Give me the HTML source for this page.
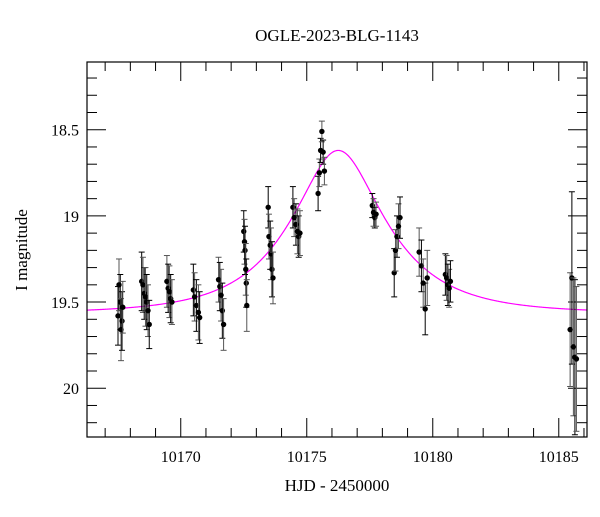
<!DOCTYPE html>
<html><head><meta charset="utf-8">
<style>
body{margin:0;background:#fff;}
svg text{font-family:"Liberation Serif","DejaVu Serif",serif;fill:#000;}
</style></head>
<body>
<svg id="chart" width="600" height="512" viewBox="0 0 600 512" xmlns="http://www.w3.org/2000/svg">
<text x="337" y="41" font-size="17" text-anchor="middle">OGLE-2023-BLG-1143</text>
<text x="337" y="491" font-size="17" text-anchor="middle">HJD - 2450000</text>
<text transform="translate(27,250) rotate(-90)" font-size="17" text-anchor="middle">I magnitude</text>
<g id="axes"></g>
<g id="model"></g>
<g id="data"></g>
<rect x="87" y="62" width="500" height="375" fill="none" stroke="#000" stroke-width="1.2"/>
</svg>
<script>
// data: [HJD-2450000, I mag, error]
const times = [10167.51,10167.55,10167.6,10167.63,10167.67,10167.7,
10168.45,10168.5,10168.55,10168.6,10168.65,10168.7,10168.75,
10169.45,10169.5,10169.55,10169.6,10169.65,
10170.5,10170.55,10170.62,10170.7,10170.75,
10171.5,10171.55,10171.6,10171.65,10171.7,
10172.5,10172.53,10172.55,10172.58,10172.6,10172.62,
10173.47,10173.5,10173.55,10173.58,10173.62,10173.66,
10174.45,10174.5,10174.57,10174.63,10174.68,10174.73,
10175.45,10175.5,10175.55,10175.6,10175.65,10175.7,
10177.6,10177.65,10177.7,10177.75,
10178.47,10178.52,10178.58,10178.64,10178.7,
10179.46,10179.55,10179.62,10179.7,10179.78,
10180.5,10180.55,10180.6,10180.65,10180.7,
10185.45,10185.52,10185.58,10185.64,10185.7];
const mags = [19.58,19.40,19.50,19.66,19.61,19.53,
19.38,19.40,19.45,19.47,19.50,19.55,19.63,
19.38,19.42,19.44,19.48,19.50,
19.43,19.47,19.52,19.56,19.59,
19.37,19.41,19.46,19.55,19.63,
19.09,19.15,19.20,19.31,19.39,19.52,
18.95,19.12,19.17,19.22,19.31,19.36,
18.95,19.01,19.05,19.09,19.12,19.10,
18.87,18.75,18.62,18.51,18.63,18.74,
18.94,18.98,19.01,18.99,
19.33,19.20,19.12,19.06,19.01,
19.21,19.29,19.39,19.54,19.36,
19.34,19.36,19.40,19.42,19.38,
19.66,19.36,19.76,19.82,19.83];
const errs = [0.17,0.15,0.16,0.18,0.17,0.15,
0.17,0.16,0.15,0.17,0.16,0.15,0.14,
0.15,0.14,0.15,0.14,0.13,
0.15,0.14,0.15,0.16,0.15,
0.13,0.14,0.15,0.16,0.15,
0.12,0.13,0.14,0.15,0.14,0.15,
0.12,0.13,0.14,0.15,0.16,0.15,
0.12,0.11,0.12,0.13,0.12,0.13,
0.10,0.08,0.07,0.06,0.07,0.08,
0.07,0.08,0.06,0.07,
0.14,0.12,0.12,0.13,0.12,
0.14,0.15,0.14,0.15,0.16,
0.12,0.13,0.12,0.11,0.12,
0.33,0.5,0.4,0.45,0.42];
const xTicks = [10170,10175,10180,10185];
const yTicks = [18.5,19,19.5,20];
// model parameters
const t0 = 10176.25, tE = 3.36, u0 = 0.45, mBase = 19.565;

const X0=87,X1=587,Y0=62,Y1=437;
const xMin=10166.28,xMax=10186.12,yMin=18.107,yMax=20.283;
const sx=t=>X0+(t-xMin)/(xMax-xMin)*(X1-X0);
const sy=m=>Y0+(m-yMin)/(yMax-yMin)*(Y1-Y0);
const NS="http://www.w3.org/2000/svg";
function mk(tag,attrs,parent){const e=document.createElementNS(NS,tag);for(const k in attrs)e.setAttribute(k,attrs[k]);parent.appendChild(e);return e;}
const axes=document.getElementById('axes');
// x ticks
for(let t=Math.ceil(xMin);t<=xMax;t++){
  const major=t%5===0,len=major?19:9,x=sx(t);
  const a=mk('line',{x1:x,x2:x,y1:Y1,y2:Y1-len,stroke:'#000','stroke-width':1},axes);
  
  
  const b=mk('line',{x1:x,x2:x,y1:Y0,y2:Y0+len,stroke:'#000','stroke-width':1},axes);
  
  
}
xTicks.forEach(t=>{
  const tx=mk('text',{x:sx(t),y:Y1+25,'font-size':16,'text-anchor':'middle'},axes);
  tx.textContent=t;
  
  
});
for(let i=Math.ceil(yMin*10);i<=yMax*10;i++){
  const m=i/10,major=i%5===0,len=major?19:10,y=sy(m);
  const a=mk('line',{x1:X0,x2:X0+len,y1:y,y2:y,stroke:'#000','stroke-width':1},axes);
  
  
  const b=mk('line',{x1:X1,x2:X1-len,y1:y,y2:y,stroke:'#000','stroke-width':1},axes);
  
  
}
yTicks.forEach(m=>{
  const tx=mk('text',{x:X0-8,y:sy(m)+6,'font-size':16,'text-anchor':'end'},axes);
  tx.textContent=m;
  
  
});
// model
let d='';
for(let i=0;i<=600;i++){
  const t=xMin+(xMax-xMin)*i/600;
  const tau=(t-t0)/tE,u=Math.sqrt(u0*u0+tau*tau);
  const A=(u*u+2)/(u*Math.sqrt(u*u+4));
  const m=mBase-2.5*Math.log10(A);
  d+=(i?'L':'M')+sx(t).toFixed(2)+','+sy(m).toFixed(2);
}
const mp=mk('path',{d:d,fill:'none',stroke:'#ff00ff','stroke-width':1.2},document.getElementById('model'));


// data
const dg=document.getElementById('data');
times.forEach((t,i)=>{
  const x=sx(t),y=sy(mags[i]),y1=sy(mags[i]-errs[i]),y2=sy(mags[i]+errs[i]);
  const col=i%2?'#555':'#000';
  const g=mk('g',{},dg);
  
  
  mk('line',{x1:x,x2:x,y1:y1,y2:y2,stroke:col,'stroke-width':1},g);
  mk('line',{x1:x-3,x2:x+3,y1:y1,y2:y1,stroke:col,'stroke-width':1},g);
  mk('line',{x1:x-3,x2:x+3,y1:y2,y2:y2,stroke:col,'stroke-width':1},g);
  mk('circle',{cx:x,cy:y,r:2.7,fill:'#000'},g);
});
</script>
</body></html>
